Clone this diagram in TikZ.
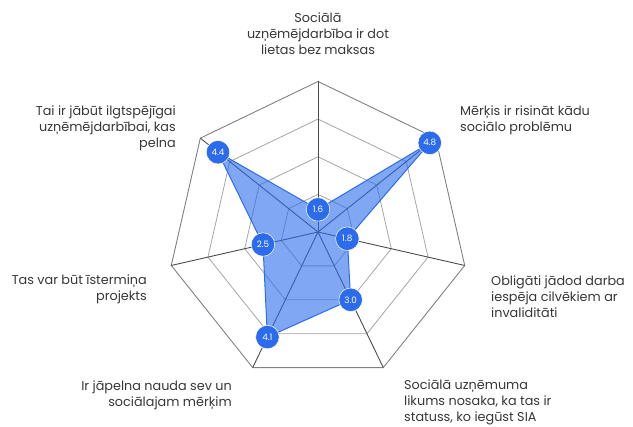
\documentclass[tikz,border=0pt]{standalone}
\usepackage{fontspec}
\setmainfont{Poppins}

\definecolor{chartblue}{RGB}{44,108,236}
\definecolor{gridgray}{RGB}{165,165,165}
\definecolor{axisgray}{RGB}{75,75,75}
\definecolor{labelgray}{RGB}{55,55,55}

\tikzset{
  labeltext/.style={font=\fontsize{12.8}{16}\selectfont, text=labelgray, inner sep=0pt},
  valuedot/.style={circle, fill=chartblue, draw=white, line width=0.5pt,
    minimum size=23.5pt, inner sep=0pt, font=\fontsize{8.8}{9}\selectfont, text=white},
}

\begin{document}
\begin{tikzpicture}[x=1pt, y=1pt]
\useasboundingbox (-318,-195) rectangle (315,232);

\coordinate (c) at (0,0);
\foreach \k in {0,...,6}
  \coordinate (v\k) at (90-\k*360/7:150.5);

% rings
\foreach \r in {37.6, 75.2, 112.9}
  \draw[gridgray, line width=0.8pt] (90:\r) -- (90-360/7:\r) -- (90-2*360/7:\r)
    -- (90-3*360/7:\r) -- (90-4*360/7:\r) -- (90-5*360/7:\r) -- (90-6*360/7:\r) -- cycle;
\draw[gray, line width=0.9pt] (v0) -- (v1) -- (v2) -- (v3) -- (v4) -- (v5) -- (v6) -- cycle;

% axes
\foreach \k in {0,...,6}
  \draw[axisgray, line width=0.9pt] (c) -- (v\k);

% values
\foreach \v [count=\k from 0] in {1.6, 4.8, 1.8, 3.0, 4.1, 2.5, 4.4}
  \coordinate (p\k) at (90-\k*360/7:{(\v-1)*150.5/4});

\fill[chartblue, fill opacity=0.6] (p0) -- (p1) -- (p2) -- (p3) -- (p4) -- (p5) -- (p6) -- cycle;
\draw[chartblue, line width=1pt] (p0) -- (p1) -- (p2) -- (p3) -- (p4) -- (p5) -- (p6) -- cycle;

\foreach \v [count=\k from 0] in {1.6, 4.8, 1.8, 3.0, 4.1, 2.5, 4.4}
  \node[valuedot] (d\k) at (p\k) {\v};

% labels (anchored at the baseline of the last line)
\node[labeltext, align=center, anchor=base] (l0) at (0,177.5) {Sociālā\\uzņēmējdarbība ir dot\\lietas bez maksas};
\node[labeltext, align=left, anchor=base west] (l1) at (142,100.5) {Mērķis ir risināt kādu\\sociālo problēmu};
\node[labeltext, align=left, anchor=base west] (l2) at (173,-85.5) {Obligāti jādod darba\\iespēja cilvēkiem ar\\invaliditāti};
\node[labeltext, align=left, anchor=base west] (l3) at (86,-190) {Sociālā uzņēmuma\\likums nosaka, ka tas ir\\statuss, ko iegūst SIA};
\node[labeltext, align=right, anchor=base east] (l4) at (-86,-175) {Ir jāpelna nauda sev un\\sociālajam mērķim};
\node[labeltext, align=right, anchor=base east] (l5) at (-171,-68.5) {Tas var būt īstermiņa\\projekts};
\node[labeltext, align=right, anchor=base east] (l6) at (-142,84) {Tai ir jābūt ilgtspējīgai\\uzņēmējdarbībai, kas\\pelna};

\end{tikzpicture}
\end{document}
